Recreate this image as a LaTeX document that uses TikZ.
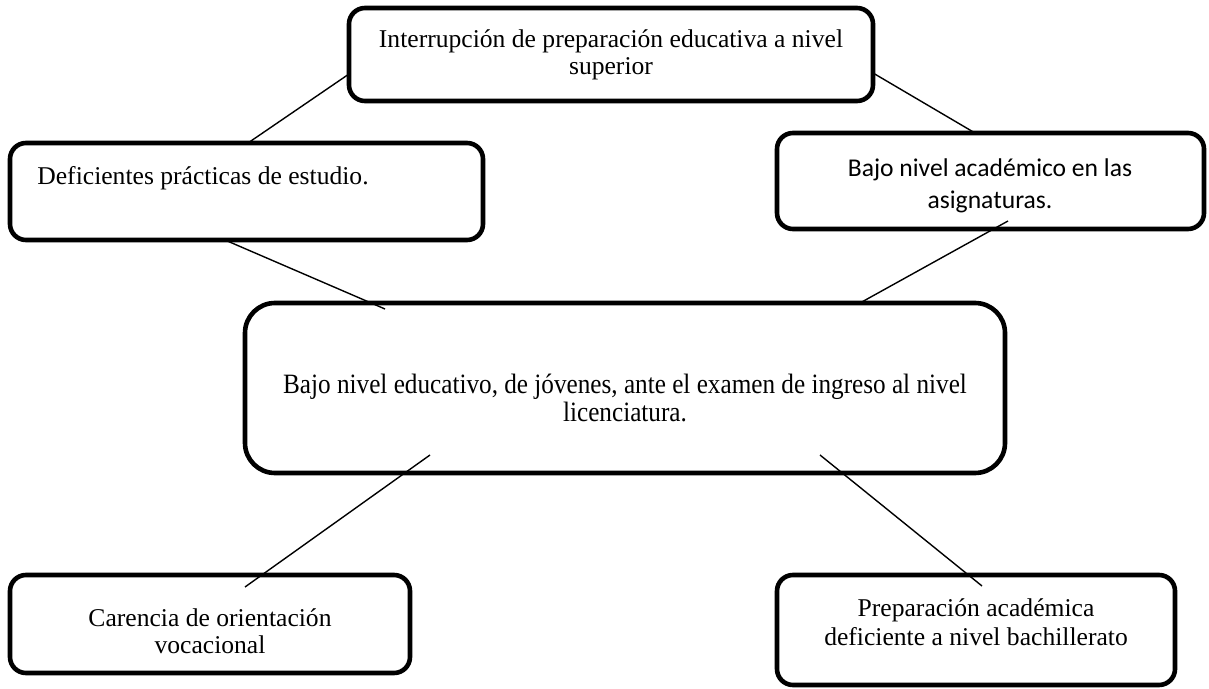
\documentclass[tikz,border=0pt]{standalone}
\usepackage{fontspec}
\setmainfont{Liberation Serif}
\newfontfamily\calibrifont{Carlito}
\newfontfamily\narrowfont[FakeStretch=0.9]{Liberation Serif}
\tikzset{
  frame box/.style={draw, line width=2.3pt, rounded corners=8pt, inner sep=0pt, outer sep=0pt},
  box text/.style={align=center, inner sep=0pt, font=\fontsize{12.8}{13.5}\selectfont},
  link/.style={line width=0.7pt},
}
\begin{document}
\begin{tikzpicture}[x=0.5pt,y=-0.5pt]
  \useasboundingbox (0,0) rectangle (1209,689);

  % frames
  \node[frame box, minimum width=262pt, minimum height=46.5pt] (interr) at (611,54.5) {};
  \node[frame box, minimum width=236.5pt, minimum height=48.5pt] (defi) at (246.5,191.5) {};
  \node[frame box, minimum width=213.5pt, minimum height=48pt] (asig) at (990.5,181) {};
  \node[frame box, minimum width=380pt, minimum height=85pt, rounded corners=15pt] (core) at (625,388) {};
  \node[frame box, minimum width=200pt, minimum height=49pt] (carencia) at (210,624) {};
  \node[frame box, minimum width=199pt, minimum height=55pt] (prepa) at (976,630) {};

  % texts
  \node[box text] (interrtext) at (611,55) {Interrupción de preparación educativa a nivel\\superior};
  \node[box text, anchor=west] (defitext) at (37,178) {Deficientes prácticas de estudio.};
  \node[box text, font=\calibrifont\fontsize{12.8}{16}\selectfont] (asigtext) at (990,186) {Bajo nivel académico en las\\asignaturas.};
  \node[box text, font=\narrowfont\fontsize{14}{12.5}\selectfont] (coretext) at (625,398) {Bajo nivel educativo, de jóvenes, ante el examen de ingreso al nivel\\licenciatura.};
  \node[box text] (carenciatext) at (210,631) {Carencia de orientación\\vocacional};
  \node[box text, font=\fontsize{12.8}{14.5}\selectfont] (prepatext) at (976,622) {Preparación académica\\deficiente a nivel bachillerato};

  % connectors
  \draw[link] ([xshift=0.75pt]defi.north) -- ([yshift=-9.75pt]interr.west);
  \draw[link] ([yshift=-9.25pt]interr.east) -- ([xshift=-7.75pt]asig.north);
  \draw[link] ([xshift=-10.75pt]defi.south) -- ([xshift=-120pt,yshift=-3pt]core.north);
  \draw[link] ([xshift=8.75pt,yshift=4pt]asig.south) -- ([xshift=117.5pt]core.north);
  \draw[link] ([xshift=-97.5pt,yshift=9pt]core.south) -- ([xshift=17.5pt,yshift=-6pt]carencia.north);
  \draw[link] ([xshift=97.5pt,yshift=9pt]core.south) -- ([xshift=3pt,yshift=-5.5pt]prepa.north);
\end{tikzpicture}
\end{document}
